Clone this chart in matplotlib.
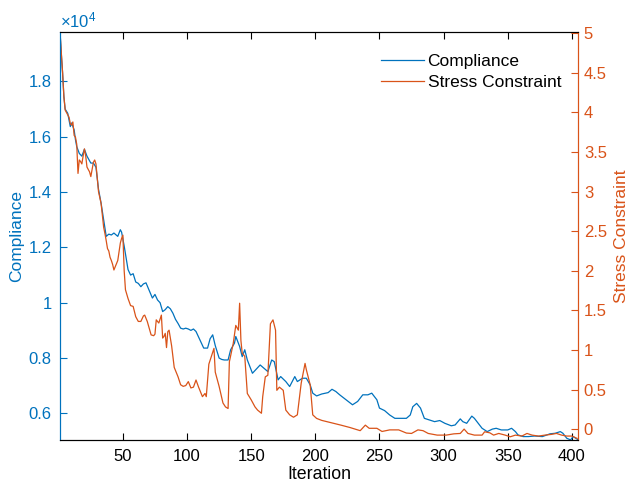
import matplotlib
matplotlib.use("Agg")
import matplotlib.pyplot as plt
from matplotlib.ticker import FuncFormatter

plt.rcParams['font.family'] = ['Liberation Sans', 'DejaVu Sans']
plt.rcParams['mathtext.fontset'] = 'custom'
plt.rcParams['mathtext.rm'] = 'Liberation Sans'

# compliance (x 1e4)
comp_iter = [1, 2, 3, 4, 5, 7, 8, 9, 10, 12, 13, 14, 16, 18, 20, 22, 25, 27, 29, 31,
             33, 35, 37, 39, 41, 43, 46, 48, 49, 51, 54, 56, 58, 60, 62, 64, 66, 68, 70, 73,
             75, 77, 79, 81, 83, 85, 87, 89, 91, 93, 95, 97, 99, 101, 103, 105, 107, 110, 113, 116,
             118, 120, 122, 125, 127, 129, 132, 134, 137, 138, 141, 143, 145, 147, 151, 154, 157, 160, 163, 166,
             168, 171, 173, 177, 180, 184, 186, 190, 193, 196, 198, 201, 205, 210, 213, 216, 219, 224, 229, 233,
             237, 241, 244, 248, 250, 254, 258, 262, 266, 271, 274, 276, 279, 282, 285, 289, 293, 297, 301, 306,
             309, 313, 315, 318, 322, 324, 327, 330, 334, 338, 341, 345, 350, 353, 356, 358, 362, 366, 371, 377,
             383, 387, 391, 393, 396, 399, 401, 405]
comp_val = [1.98, 1.90, 1.83, 1.745, 1.70, 1.685, 1.66, 1.637, 1.65, 1.625, 1.59, 1.565, 1.54, 1.53, 1.555, 1.53, 1.505, 1.505, 1.49, 1.41,
            1.36, 1.30, 1.24, 1.248, 1.245, 1.252, 1.24, 1.264, 1.255, 1.205, 1.12, 1.10, 1.105, 1.075, 1.07, 1.058, 1.068, 1.072, 1.05, 1.017,
            1.03, 1.01, 1.0, 0.968, 0.975, 0.986, 0.978, 0.962, 0.94, 0.925, 0.908, 0.905, 0.908, 0.905, 0.90, 0.905, 0.896, 0.866, 0.836, 0.836,
            0.87, 0.884, 0.845, 0.80, 0.795, 0.793, 0.793, 0.83, 0.854, 0.878, 0.842, 0.805, 0.83, 0.793, 0.745, 0.76, 0.775, 0.763, 0.751, 0.793,
            0.787, 0.721, 0.733, 0.715, 0.697, 0.733, 0.715, 0.727, 0.727, 0.703, 0.673, 0.663, 0.67, 0.675, 0.687, 0.679, 0.667, 0.649, 0.631, 0.643,
            0.667, 0.667, 0.673, 0.649, 0.619, 0.61, 0.594, 0.582, 0.582, 0.582, 0.594, 0.624, 0.636, 0.619, 0.582, 0.576, 0.57, 0.574, 0.564, 0.555,
            0.558, 0.58, 0.57, 0.564, 0.59, 0.582, 0.564, 0.546, 0.534, 0.543, 0.546, 0.540, 0.540, 0.546, 0.534, 0.522, 0.516, 0.516, 0.518, 0.516,
            0.526, 0.528, 0.534, 0.528, 0.51, 0.504, 0.516, 0.504]
comp_val = [v * 1e4 for v in comp_val]

# stress constraint
stress_iter = [1, 2, 3, 4, 5, 7, 8, 9, 10, 11, 12, 13, 14, 15, 16, 17, 18, 19, 20, 21,
               22, 24, 25, 26, 27, 28, 29, 31, 33, 35, 36, 37, 38, 39, 40, 41, 42, 43, 44, 46,
               48, 49, 50, 51, 52, 54, 56, 58, 60, 62, 64, 66, 67, 69, 72, 74, 75, 76, 78, 80,
               81, 82, 83, 84, 85, 86, 88, 90, 93, 95, 97, 99, 101, 103, 105, 107, 109, 111, 112, 114,
               115, 117, 119, 121, 122, 125, 128, 130, 132, 133, 136, 138, 140, 141, 142, 143, 145, 147, 150, 153,
               155, 158, 159, 161, 163, 165, 167, 169, 170, 172, 175, 177, 180, 183, 186, 189, 192, 193, 196, 198,
               201, 205, 210, 215, 220, 227, 235, 239, 242, 248, 252, 258, 265, 271, 275, 280, 284, 288, 295, 302,
               308, 313, 316, 319, 324, 330, 332, 336, 339, 343, 348, 352, 356, 361, 365, 369, 374, 379, 384, 388,
               392, 396, 400, 404]
stress_val = [5.0, 4.75, 4.5, 4.2, 4.03, 3.97, 3.94, 3.86, 3.84, 3.88, 3.71, 3.69, 3.6, 3.23, 3.40, 3.38, 3.35, 3.45, 3.54, 3.45,
              3.31, 3.25, 3.19, 3.28, 3.37, 3.40, 3.35, 3.0, 2.85, 2.55, 2.47, 2.38, 2.28, 2.25, 2.17, 2.13, 2.08, 2.01, 2.05, 2.13,
              2.35, 2.41, 2.45, 2.0, 1.76, 1.65, 1.56, 1.55, 1.42, 1.36, 1.36, 1.43, 1.44, 1.36, 1.19, 1.18, 1.2, 1.38, 1.34, 1.44,
              1.15, 1.17, 1.21, 1.03, 1.23, 1.25, 1.05, 0.78, 0.66, 0.56, 0.54, 0.55, 0.6, 0.52, 0.53, 0.62, 0.53, 0.45, 0.41, 0.45,
              0.41, 0.82, 0.92, 1.02, 0.72, 0.54, 0.33, 0.28, 0.26, 0.85, 1.08, 1.31, 1.25, 1.59, 1.12, 0.96, 0.92, 0.45, 0.37, 0.28,
              0.24, 0.2, 0.41, 0.66, 0.68, 1.33, 1.38, 1.25, 0.49, 0.53, 0.49, 0.24, 0.18, 0.15, 0.18, 0.58, 0.83, 0.75, 0.56, 0.18,
              0.135, 0.11, 0.09, 0.07, 0.05, 0.02, -0.02, 0.05, 0.01, 0.01, -0.03, -0.01, -0.01, -0.05, -0.055, -0.01, -0.02, -0.055, -0.076, -0.076,
              -0.06, -0.055, 0.0, -0.055, -0.076, -0.076, -0.034, -0.047, -0.076, -0.055, -0.076, -0.097, -0.076, -0.088, -0.055, -0.076, -0.088, -0.076, -0.067, -0.055,
              -0.076, -0.088, -0.088, -0.117]

x_ticks = [50, 100, 150, 200, 250, 300, 350, 400]
left_ticks = [6000, 8000, 10000, 12000, 14000, 16000, 18000]
right_ticks = [0, 0.5, 1, 1.5, 2, 2.5, 3, 3.5, 4, 4.5, 5]

blue = '#0072BD'
orange = '#D95319'

fig = plt.figure(figsize=(6.32, 4.88), dpi=100)
ax = fig.add_axes([0.095, 0.098, 0.82, 0.837])
ax2 = ax.twinx()

l1, = ax.plot(comp_iter, comp_val, color=blue, lw=0.9, label='Compliance')
l2, = ax2.plot(stress_iter, stress_val, color=orange, lw=0.9, label='Stress Constraint')

ax.set_xlim(1, 405)
ax.set_ylim(5030, 19800)
ax2.set_ylim(-0.14, 5.02)

ax.set_xticks(x_ticks)
ax.set_yticks(left_ticks)
ax.yaxis.set_major_formatter(FuncFormatter(lambda v, p: '%g' % (v / 1e4)))
ax2.set_yticks(right_ticks)
ax2.yaxis.set_major_formatter(FuncFormatter(lambda v, p: '%g' % v))

ax.tick_params(axis='x', direction='in', top=True, length=5, labelsize=12, colors='black', pad=6)
ax.tick_params(axis='y', direction='in', length=5, labelsize=12, colors=blue, pad=6)
ax2.tick_params(axis='y', direction='in', length=5, labelsize=12, colors=orange, pad=4)

for a in (ax, ax2):
    a.spines['top'].set_color('black')
    a.spines['bottom'].set_color('black')
    a.spines['left'].set_color(blue)
    a.spines['right'].set_color(orange)

ax.set_xlabel('Iteration', fontsize=12.8, labelpad=2)
ax.set_ylabel('Compliance', fontsize=12.5, color=blue, labelpad=3)
ax2.set_ylabel('Stress Constraint', fontsize=12.5, color=orange, labelpad=5)

ax.text(0.0, 1.004, r'$\mathregular{\times10^{4}}$', transform=ax.transAxes,
        color=blue, fontsize=12, ha='left', va='bottom')

ax2.legend([l1, l2], ['Compliance', 'Stress Constraint'], loc='upper right',
           bbox_to_anchor=(0.997, 0.985), frameon=False, fontsize=12.5,
           handlelength=2.5, handletextpad=0.2, labelspacing=0.35)

fig.savefig('out.png', dpi=100)
